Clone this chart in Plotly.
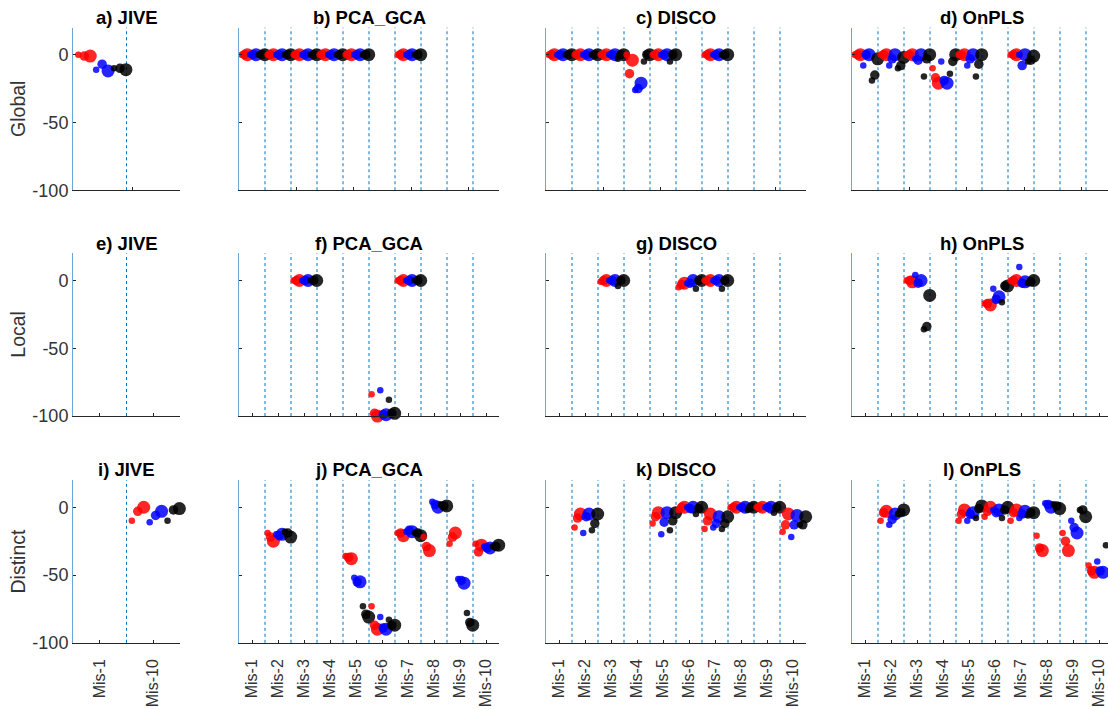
import plotly.graph_objects as go

# ---------------- data ----------------
CATS10 = ["Mis-1", "Mis-2", "Mis-3", "Mis-4", "Mis-5", "Mis-6", "Mis-7", "Mis-8", "Mis-9", "Mis-10"]
CATS_JIVE = ["Mis-1", "Mis-10"]
# each category: [red s, red m, red l, blue s, blue m, blue l, black s, black m, black l]
POINT_COLORS = ["red", "red", "red", "blue", "blue", "blue", "black", "black", "black"]

JIVE_GLOBAL = [[0, -1, -1, -11, -7, -12, -10, -10, -11], None]
JIVE_LOCAL = [None, None]
JIVE_DISTINCT = [None, [-10, -3, 0, -11, -6, -3, -10, -2, -1]]

PCA_GLOBAL = [
    [0, 0, 0, 0, 0, 0, 0, 0, 0],
    [0, 0, 0, 0, 0, 0, 0, 0, 0],
    [0, 0, 0, 0, 0, 0, 0, 0, 0],
    [0, 0, 0, 0, 0, 0, 0, 0, 0],
    [0, 0, 0, 0, 0, 0, 0, 0, 0],
    None,
    [0, 0, 0, 0, 0, 0, 0, 0, 0],
    None, None, None,
]
DISCO_GLOBAL = [
    [0, 0, 0, 0, 0, 0, 0, 0, 0],
    [0, 0, 0, 0, 0, 0, 0, 0, 0],
    [0, 0, 0, 0, 0, 0, -3, 0, 0],
    [0, -14, -4, -26, -25, -21, -5, 0, 0],
    [0, 0, 0, 0, 0, 0, -5, 0, 0],
    None,
    [0, 0, 0, 0, 0, 0, 0, 0, 0],
    None, None, None,
]
ONPLS_GLOBAL = [
    [0, 0, 0, -8, 0, 0, -19, -15, -3],
    [0, 0, 0, -8, -3, 0, -10, -8, -2],
    [0, 0, 0, -3, -4, 0, -16, -3, 0],
    [-10, -17, -21, -5, -19, -21, -14, -5, 0],
    [0, 0, 0, -8, -3, 0, -16, -7, 0],
    None,
    [0, 0, 0, 0, -8, 0, -5, -4, -1],
    None, None, None,
]

PCA_LOCAL = [
    None, None,
    [0, 0, 0, 0, 0, 0, 0, 0, 0],
    None, None,
    [-84, -98, -100, -81, -99, -99, -88, -98, -98],
    [0, 0, 0, 0, 0, 0, 0, 0, 0],
    None, None, None,
]
DISCO_LOCAL = [
    None, None,
    [-1, 0, 0, 0, 0, 0, -4, 0, 0],
    None, None,
    [-5, -3, -2, -2, -2, 0, -6, 0, 0],
    [0, 0, 0, 0, 0, 0, -6, 0, 0],
    None, None, None,
]
ONPLS_LOCAL = [
    None, None,
    [0, 0, -1, 4, -2, 0, -36, -34, -11],
    None, None,
    [-17, -17, -18, -6, -14, -12, -16, -4, -4],
    [0, 0, 0, 10, -2, -1, -2, -1, 0],
    None, None, None,
]

PCA_DISTINCT = [
    None,
    [-19, -22, -25, -20, -21, -20, -18, -19, -22],
    None, None,
    [-36, -37, -38, -52, -55, -55, -73, -79, -81],
    [-73, -87, -90, -81, -89, -90, -83, -87, -87],
    [-19, -19, -21, -18, -17, -18, -19, -19, -21],
    [-22, -29, -32, 4, 2, 0, 2, 1, 1],
    [-27, -22, -19, -53, -54, -56, -78, -85, -87],
    [-27, -33, -28, -29, -30, -30, -29, -29, -28],
]
DISCO_DISTINCT = [
    None,
    [-15, -8, -5, -19, -7, -5, -17, -12, -5],
    None, None,
    [-12, -7, -4, -20, -11, -4, -17, -10, -4],
    [-2, 0, 0, 0, -1, 0, -5, -1, 0],
    [-16, -10, -5, -15, -12, -7, -16, -12, -7],
    [0, 0, 0, 0, 0, 0, -2, 0, 0],
    [0, 0, 0, 0, 0, 0, -4, 0, 0],
    [-18, -13, -5, -22, -13, -6, -13, -13, -7],
]
ONPLS_DISTINCT = [
    None,
    [-10, -4, -3, -13, -9, -5, -5, -4, -2],
    None, None,
    [-10, -5, -2, -10, -5, -4, -8, -1, 1],
    [-7, -3, 0, -2, -4, -2, -8, -2, 0],
    [-10, -4, -2, -8, -5, -3, -6, -4, -4],
    [-21, -30, -32, 3, 2, 0, 2, 1, -1],
    [-19, -25, -32, -10, -15, -19, -2, -2, -7],
    [-43, -47, -48, -40, -47, -48, -28, -38, -48],
]

ROW_NAMES = ["Global", "Local", "Distinct"]
PANELS = [
    ("a) JIVE", CATS_JIVE, JIVE_GLOBAL), ("b) PCA_GCA", CATS10, PCA_GLOBAL),
    ("c) DISCO", CATS10, DISCO_GLOBAL), ("d) OnPLS", CATS10, ONPLS_GLOBAL),
    ("e) JIVE", CATS_JIVE, JIVE_LOCAL), ("f) PCA_GCA", CATS10, PCA_LOCAL),
    ("g) DISCO", CATS10, DISCO_LOCAL), ("h) OnPLS", CATS10, ONPLS_LOCAL),
    ("i) JIVE", CATS_JIVE, JIVE_DISTINCT), ("j) PCA_GCA", CATS10, PCA_DISTINCT),
    ("k) DISCO", CATS10, DISCO_DISTINCT), ("l) OnPLS", CATS10, ONPLS_DISTINCT),
]

# ---------------- style / layout ----------------
W, H = 1108, 709
COL_PX = [(73, 180), (239, 499), (546, 806), (852, 1108)]
ROW_PX = [(28, 193), (257, 422), (487, 652)]
MARKER_SIZES = [6.5, 9.5, 13]
FONT = "Liberation Sans, Arial, Helvetica, sans-serif"
LINE_BLUE = "#0072BD"
AXIS_GRAY = "#262626"
TEXT_GRAY = "#333333"

fig = go.Figure()
annotations = []
shapes = []

for n, (title, cats, data) in enumerate(PANELS):
    row, col = divmod(n, 4)
    idx = n + 1
    xa = "x" if idx == 1 else f"x{idx}"
    ya = "y" if idx == 1 else f"y{idx}"
    xkey = "xaxis" if idx == 1 else f"xaxis{idx}"
    ykey = "yaxis" if idx == 1 else f"yaxis{idx}"
    ncat = len(cats)
    x0p, x1p = COL_PX[col]
    y0p, y1p = ROW_PX[row]

    # points, category by category (red, blue, black; small -> large)
    for k, vals in enumerate(data, start=1):
        if vals is None:
            continue
        xs = [k - 0.5 + (i + 0.9) / 9 for i in range(9)]
        fig.add_trace(go.Scatter(
            x=xs, y=vals, mode="markers", xaxis=xa, yaxis=ya,
            showlegend=False, hoverinfo="skip", cliponaxis=False,
            marker=dict(color=POINT_COLORS, size=MARKER_SIZES * 3,
                        opacity=0.85, line=dict(width=0)),
        ))

    # vertical separators
    for b in range(1, ncat):
        shapes.append(dict(type="line", xref=xa, yref=f"{ya} domain",
                           x0=b + 0.5, x1=b + 0.5, y0=0, y1=1, layer="below",
                           line=dict(color=LINE_BLUE, width=1, dash="dot")))

    if col == 3:
        xr = [0.5, 0.5 + (x1p - x0p) / 26.0]
    else:
        xr = [0.5, ncat + 0.5]

    if row == 0:
        tv = [1.62] if ncat == 2 else [2.73, 4.92, 7.15, 9.34]
        tt = [""] * len(tv)
    else:
        tv = list(range(1, ncat + 1))
        tt = cats if row == 2 else [""] * ncat

    fig.layout[xkey] = dict(
        domain=[x0p / W, x1p / W], range=xr, anchor=ya,
        showgrid=False, zeroline=False, showline=True, linecolor=AXIS_GRAY, linewidth=1,
        ticks="inside", ticklen=3, tickcolor=AXIS_GRAY,
        tickvals=tv, ticktext=tt, tickangle=-90, ticklabelstandoff=9,
        tickfont=dict(family=FONT, size=16, color=TEXT_GRAY),
        showticklabels=(row == 2), fixedrange=True,
    )
    fig.layout[ykey] = dict(
        domain=[1 - y1p / H, 1 - y0p / H], range=[-100, 20], anchor=xa,
        showgrid=False, zeroline=False, showline=True, linecolor="#6aa6d6", linewidth=1,
        ticks="inside", ticklen=3, tickcolor=AXIS_GRAY,
        tickvals=[-100, -50, 0], ticktext=["-100", "-50", "0"],
        tickfont=dict(family=FONT, size=18, color=TEXT_GRAY),
        showticklabels=(col == 0), fixedrange=True,
    )

    annotations.append(dict(
        text=f"<b>{title}</b>", xref="paper", yref="paper",
        x=(x0p + x1p) / 2 / W if col < 3 else (x0p + 130) / W,
        y=1 - (y0p - 10.5) / H, xanchor="center", yanchor="middle",
        showarrow=False, font=dict(family=FONT, size=18.5, color="black"),
    ))

for r, name in enumerate(ROW_NAMES):
    y0p, y1p = ROW_PX[r]
    annotations.append(dict(
        text=name, xref="paper", yref="paper", x=18 / W, y=1 - (y0p + y1p) / 2 / H,
        xanchor="center", yanchor="middle", textangle=-90, showarrow=False,
        font=dict(family=FONT, size=19.5, color=TEXT_GRAY),
    ))

fig.update_layout(
    width=W, height=H, margin=dict(l=0, r=0, t=0, b=0),
    paper_bgcolor="white", plot_bgcolor="white",
    annotations=annotations, shapes=shapes, showlegend=False,
)

fig.write_html("out.html", config={"displayModeBar": False})
